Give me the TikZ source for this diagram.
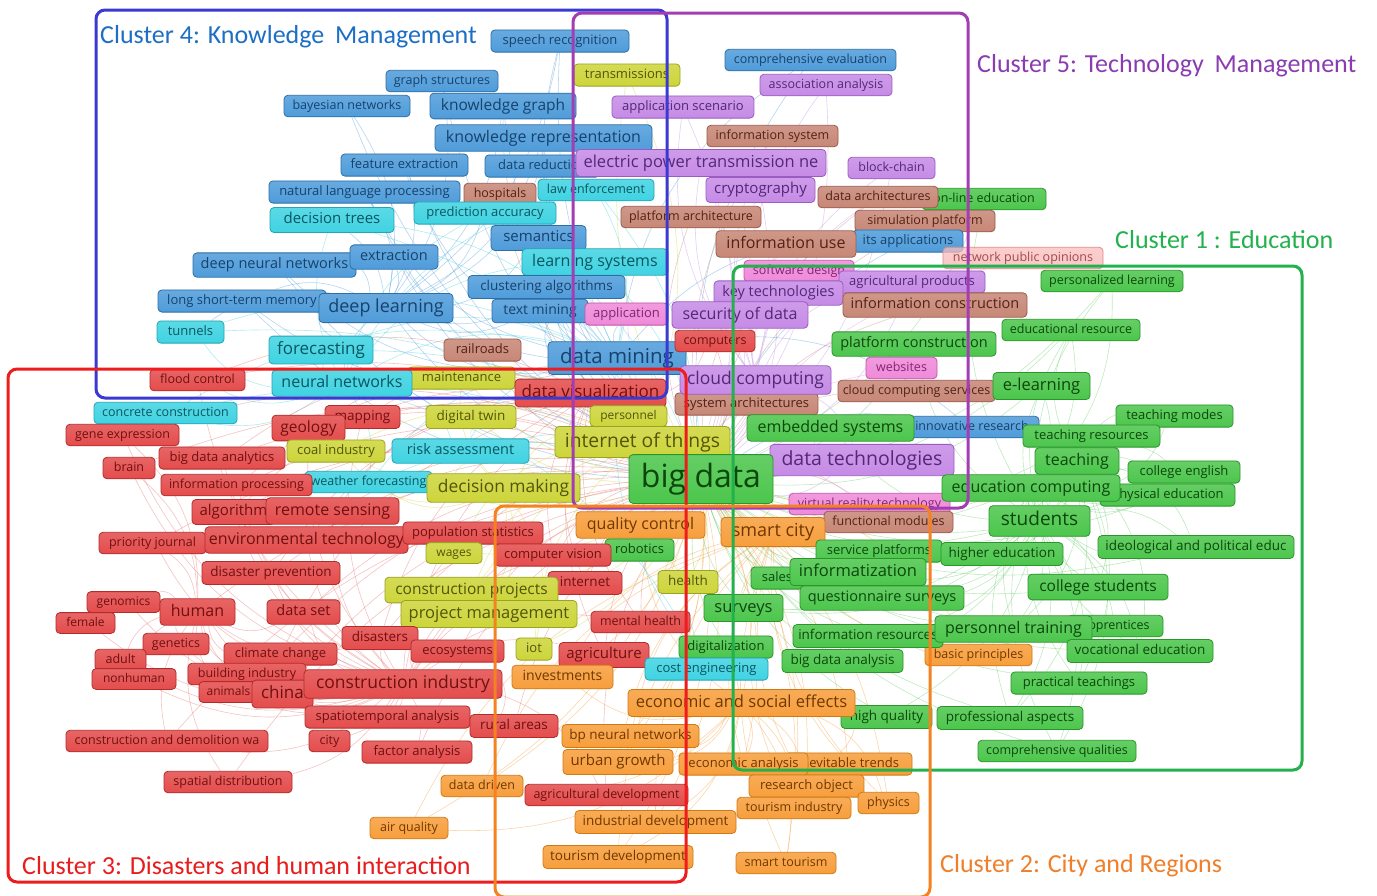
\documentclass[tikz,border=0pt]{standalone}
\usepackage{fontspec}
\newfontfamily\lblfont{Open Sans}
\newfontfamily\ttlfont{Carlito}
\pgfdeclarelayer{links}
\pgfsetlayers{links,main}

% keyword label colours: fill / border / text
\definecolor{BkF}{HTML}{4F9CDA}\definecolor{BkD}{HTML}{2E6EA6}\definecolor{BkT}{HTML}{17426C}
\definecolor{CyF}{HTML}{40D3E2}\definecolor{CyD}{HTML}{22A5B5}\definecolor{CyT}{HTML}{0A5660}
\definecolor{YeF}{HTML}{CDD53A}\definecolor{YeD}{HTML}{9CA322}\definecolor{YeT}{HTML}{52550A}
\definecolor{PuF}{HTML}{C68BE6}\definecolor{PuD}{HTML}{9A5CC2}\definecolor{PuT}{HTML}{522878}
\definecolor{BrF}{HTML}{C78776}\definecolor{BrD}{HTML}{9A5A4C}\definecolor{BrT}{HTML}{522216}
\definecolor{RdF}{HTML}{E44C4C}\definecolor{RdD}{HTML}{B32B2B}\definecolor{RdT}{HTML}{701010}
\definecolor{OrF}{HTML}{F79E3C}\definecolor{OrD}{HTML}{D27A12}\definecolor{OrT}{HTML}{703800}
\definecolor{GnF}{HTML}{4CC64C}\definecolor{GnD}{HTML}{2A952A}\definecolor{GnT}{HTML}{0C470C}
\definecolor{PkF}{HTML}{EF8AD9}\definecolor{PkD}{HTML}{C454AC}\definecolor{PkT}{HTML}{822672}
\definecolor{LpF}{HTML}{F9B4B4}\definecolor{LpD}{HTML}{E08A8A}\definecolor{LpT}{HTML}{A04A4A}
% cluster frames and titles
\definecolor{FrB}{HTML}{3A3AD2}\definecolor{FrP}{HTML}{A43DB4}\definecolor{FrG}{HTML}{22B14C}
\definecolor{FrR}{HTML}{EE1C1C}\definecolor{FrO}{HTML}{F58220}
\definecolor{TtB}{HTML}{1C6FC4}\definecolor{TtP}{HTML}{8A3CB0}\definecolor{TtG}{HTML}{22B14C}
\definecolor{TtR}{HTML}{E81C1C}\definecolor{TtO}{HTML}{F07F2A}

\tikzset{
  kw/.style={draw, rounded corners=4pt, line width=0.8pt, inner xsep=4pt, inner ysep=0pt},
  sz/.style={font=\lblfont\fontsize{#1}{#1}\selectfont, minimum height={1.4*#1+4},
             text height={0.72*#1}, text depth={0.2*#1}},
  lbl/.style 2 args={kw, top color=#1F!86!white, bottom color=#1F, draw=#1D, text=#1T#2},
  Bk/.style={lbl={Bk}{}},
  Cy/.style={lbl={Cy}{}},
  Ye/.style={lbl={Ye}{}},
  Pu/.style={lbl={Pu}{}},
  Br/.style={lbl={Br}{}},
  Rd/.style={lbl={Rd}{}},
  Or/.style={lbl={Or}{}},
  Gn/.style={lbl={Gn}{}},
  Pk/.style={lbl={Pk}{}},
  Lp/.style={lbl={Lp}{}, fill opacity=0.75, text opacity=1},
  frame/.style={line width=3pt, rounded corners=9pt},
  ttl/.style={font=\ttlfont\fontsize{26}{26}\selectfont, inner sep=0pt, anchor=west},
  lk/.style={line width=0.6pt, opacity=0.42},
  lkB/.style={lk, draw=BkF}, lkC/.style={lk, draw=CyF}, lkY/.style={lk, draw=YeF},
  lkP/.style={lk, draw=PuF}, lkW/.style={lk, draw=BrF}, lkR/.style={lk, draw=RdF!80!white},
  lkO/.style={lk, draw=OrF}, lkG/.style={lk, draw=GnF!85!white}, lkK/.style={lk, draw=PkF},
}

% keyword label: style, name, left, right, y, font size, text
\newcommand\kwd[7]{\node[#1, sz=#6, minimum width={#4-#3}] (#2) at ({(#3+#4)/2},#5) {#7};}

\begin{document}
\begin{tikzpicture}[x=1pt, y=-1pt]
\begin{pgfonlayer}{links}
\fill[white] (0,0) rectangle (1377,895);
\end{pgfonlayer}
\useasboundingbox (0,0) rectangle (1377,895);

% ---- knowledge management region
\kwd{Bk}{speech}{491}{629}{41}{13}{speech recognition}
\kwd{Bk}{graphst}{386}{498}{81}{12.5}{graph structures}
\kwd{Bk}{bayes}{284}{410}{106}{12.5}{bayesian networks}
\kwd{Bk}{kgraph}{430}{576}{106}{15.5}{knowledge graph}
\kwd{Bk}{krep}{435}{652}{138}{16}{knowledge representation}
\kwd{Bk}{featx}{341}{468}{165}{13}{feature extraction}
\kwd{Bk}{datared}{485}{600}{166}{13}{data reduction}
\kwd{Bk}{nlp}{269}{460}{192}{13}{natural language processing}
\kwd{Br}{hosp}{464}{536}{194}{12.5}{hospitals}
\kwd{Cy}{lawenf}{538}{654}{190}{12.5}{law enforcement}
\kwd{Cy}{predacc}{414}{556}{213}{13}{prediction accuracy}
\kwd{Cy}{dtrees}{270}{394}{220}{15}{decision trees}
\kwd{Bk}{seman}{491}{586}{238}{15}{semantics}
\kwd{Bk}{dnn}{193}{356}{265}{14.5}{deep neural networks}
\kwd{Bk}{extr}{350}{438}{257}{14.5}{extraction}
\kwd{Cy}{learnsys}{522}{668}{262}{16}{learning systems}
\kwd{Bk}{clustalg}{468}{625}{287}{13.5}{clustering algorithms}
\kwd{Bk}{lstm}{158}{326}{301}{13}{long short-term memory}
\kwd{Bk}{deepl}{319}{453}{308}{18}{deep learning}
\kwd{Cy}{tunnels}{157}{224}{332}{13}{tunnels}
\kwd{Bk}{textmin}{492}{588}{311}{14}{text mining}
\kwd{Pk}{appl}{585}{668}{314}{13}{application}
\kwd{Cy}{forecast}{269}{373}{350}{17}{forecasting}
\kwd{Br}{railr}{444}{521}{350}{13}{railroads}
\kwd{Bk}{datamin}{548}{686}{358}{20.5}{data mining}
\kwd{Ye}{mainten}{408}{515}{378}{13}{maintenance}
\kwd{Cy}{neuralnet}{272}{412}{383}{16}{neural networks}
\kwd{Rd}{floodc}{150}{245}{380}{12.5}{flood control}
\kwd{Rd}{datavis}{515}{666}{393}{17}{data visualization}

% ---- technology management region
\kwd{Ye}{transm}{574}{680}{75}{13}{transmissions}
\kwd{Bk}{compeval}{725}{896}{60}{12.5}{comprehensive evaluation}
\kwd{Pu}{assoc}{760}{892}{85}{12.5}{association analysis}
\kwd{Pu}{applscen}{612}{754}{107}{13}{application scenario}
\kwd{Br}{infosys}{707}{838}{136}{12.5}{information system}
\kwd{Pu}{electric}{576}{826}{163}{16.5}{electric power transmission ne}
\kwd{Pu}{block}{848}{935}{168}{12.5}{block-chain}
\kwd{Pu}{crypto}{706}{815}{190}{15}{cryptography}
\kwd{Gn}{online}{922}{1046}{199}{12.5}{on-line education}
\kwd{Br}{dataarch}{818}{938}{197}{12.5}{data architectures}
\kwd{Br}{platarch}{621}{761}{217}{12.5}{platform architecture}
\kwd{Br}{simplat}{855}{995}{221}{12.5}{simulation platform}
\kwd{Bk}{itsapp}{853}{963}{241}{13}{its applications}
\kwd{Br}{infouse}{716}{856}{244}{16}{information use}
\kwd{Lp}{netpub}{943}{1103}{258}{12.5}{network public opinions}
\kwd{Pk}{softdes}{744}{854}{271}{12.5}{software design}
\kwd{Pu}{agriprod}{839}{985}{282}{13}{agricultural products}
\kwd{Pu}{keytech}{714}{843}{293}{14.5}{key technologies}
\kwd{Gn}{perslearn}{1041}{1183}{281}{12.5}{personalized learning}
\kwd{Br}{infocons}{843}{1027}{305}{14.5}{information construction}
\kwd{Pu}{secdata}{672}{808}{315}{16}{security of data}
\kwd{Rd}{computers}{675}{755}{341}{12.5}{computers}
\kwd{Gn}{edures}{1002}{1140}{330}{12.5}{educational resource}
\kwd{Gn}{platcons}{832}{996}{344}{14.5}{platform construction}
\kwd{Pk}{websites}{866}{937}{368}{12.5}{websites}
\kwd{Br}{sysarch}{675}{818}{404}{13}{system architectures}
\kwd{Pu}{cloudc}{680}{831}{380}{17.5}{cloud computing}
\kwd{Br}{cloudserv}{838}{995}{391}{12.5}{cloud computing services}
\kwd{Gn}{elearn}{993}{1090}{386}{16.5}{e-learning}
\kwd{Bk}{innov}{905}{1039}{427}{12.5}{innovative research}
\kwd{Gn}{embedded}{747}{914}{428}{16}{embedded systems}
\kwd{Gn}{teachmodes}{1116}{1233}{416}{13}{teaching modes}
\kwd{Gn}{teachres}{1023}{1160}{436}{13}{teaching resources}
\kwd{Pu}{datatech}{770}{954}{460}{19.5}{data technologies}
\kwd{Gn}{teaching}{1035}{1119}{461}{16}{teaching}
\kwd{Gn}{colleng}{1128}{1240}{472}{13}{college english}
\kwd{Gn}{physed}{1100}{1235}{495}{13}{physical education}
\kwd{Pk}{vrtech}{789}{950}{504}{12.5}{virtual reality technology}
\kwd{Gn}{educomp}{942}{1120}{488}{16}{education computing}

% ---- central and disaster region
\kwd{Cy}{concrete}{94}{237}{413}{12.5}{concrete construction}
\kwd{Rd}{geneexp}{66}{179}{435}{12.5}{gene expression}
\kwd{Rd}{mapping}{325}{400}{417}{13.5}{mapping}
\kwd{Rd}{geology}{272}{345}{428}{15.5}{geology}
\kwd{Ye}{dtwin}{426}{516}{417}{13.5}{digital twin}
\kwd{Ye}{personnel}{590}{667}{416}{12}{personnel}
\kwd{Ye}{iotth}{555}{730}{442}{19.3}{internet of things}
\kwd{Ye}{coal}{287}{385}{451}{13}{coal industry}
\kwd{Cy}{riskass}{392}{529}{451}{14.5}{risk assessment}
\kwd{Rd}{brain}{103}{155}{468}{12.5}{brain}
\kwd{Rd}{bdanalytics}{159}{285}{458}{13}{big data analytics}
\kwd{Cy}{weather}{305}{432}{482}{12.5}{weather forecasting}
\kwd{Rd}{infoproc}{161}{312}{485}{12.5}{information processing}
\kwd{Ye}{decmak}{427}{580}{488}{17.4}{decision making}
\kwd{Gn}{bigdata}{629}{773}{479}{32}{big data}
\kwd{Rd}{algo}{192}{275}{512}{15}{algorithm}
\kwd{Rd}{remsens}{266}{399}{511}{16}{remote sensing}
\kwd{Rd}{prio}{99}{206}{543}{12.5}{priority journal}
\kwd{Rd}{envtech}{210}{403}{540}{16}{environmental technology}
\kwd{Rd}{popstat}{403}{543}{533}{13}{population statistics}
\kwd{Ye}{wages}{426}{482}{553}{12}{wages}
\kwd{Or}{qualc}{576}{705}{525}{16}{quality control}
\kwd{Gn}{robotics}{605}{674}{550}{13}{robotics}
\kwd{Rd}{compvis}{495}{611}{555}{13}{computer vision}
\kwd{Br}{funcmod}{824}{953}{522}{12.5}{functional modules}
\kwd{Or}{smartcity}{721}{825}{532}{18}{smart city}
\kwd{Gn}{students}{989}{1090}{521}{19}{students}
\kwd{Rd}{disprev}{202}{340}{573}{13.5}{disaster prevention}
\kwd{Rd}{internet}{548}{622}{583}{13.5}{internet}
\kwd{Ye}{constrproj}{385}{558}{590}{15.5}{construction projects}
\kwd{Ye}{health}{658}{718}{582}{13.5}{health}
\kwd{Rd}{genomics}{87}{160}{602}{12}{genomics}
\kwd{Rd}{human}{160}{235}{612}{16}{human}
\kwd{Rd}{dataset}{267}{340}{612}{14.5}{data set}
\kwd{Ye}{projman}{401}{577}{614}{16.5}{project management}
\kwd{Rd}{female}{56}{115}{623}{12}{female}
\kwd{Rd}{genetics}{143}{209}{644}{12.5}{genetics}
\kwd{Rd}{disasters}{342}{418}{638}{13.5}{disasters}
\kwd{Rd}{mentalh}{591}{690}{622}{12.5}{mental health}
\kwd{Rd}{ecosys}{411}{504}{651}{13}{ecosystems}
\kwd{Ye}{iot}{516}{552}{649}{13}{iot}
\kwd{Rd}{agri}{559}{649}{655}{15}{agriculture}
\kwd{Rd}{climate}{224}{337}{654}{13}{climate change}
\kwd{Rd}{adult}{95}{146}{660}{12.5}{adult}
\kwd{Rd}{nonhuman}{92}{176}{679}{12}{nonhuman}
\kwd{Rd}{building}{188}{306}{674}{12.5}{building industry}
\kwd{Rd}{animals}{199}{258}{692}{12}{animals}
\kwd{Rd}{china}{252}{313}{694}{17}{china}
\kwd{Rd}{constrind}{304}{502}{684}{17.5}{construction industry}
\kwd{Or}{invest}{512}{613}{677}{14}{investments}

% ---- education and city region
\kwd{Gn}{servplat}{816}{942}{551}{13}{service platforms}
\kwd{Gn}{highered}{941}{1063}{554}{13.5}{higher education}
\kwd{Gn}{ideo}{1098}{1294}{547}{13.5}{ideological and political educ}
\kwd{Gn}{sales}{751}{803}{578}{13}{sales}
\kwd{Gn}{informat}{790}{926}{572}{16.5}{informatization}
\kwd{Gn}{questsurv}{800}{964}{598}{14.5}{questionnaire surveys}
\kwd{Gn}{collstud}{1028}{1168}{587}{15.5}{college students}
\kwd{Gn}{surveys}{704}{783}{608}{16.5}{surveys}
\kwd{Or}{basicpr}{925}{1032}{655}{12.5}{basic principles}
\kwd{Gn}{inforesrc}{793}{943}{636}{13.5}{information resources}
\kwd{Gn}{apprent}{1068}{1163}{626}{12.5}{apprentices}
\kwd{Gn}{perstrain}{935}{1092}{629}{16}{personnel training}
\kwd{Gn}{vocat}{1067}{1213}{651}{13.5}{vocational education}
\kwd{Gn}{bdanalysis}{782}{903}{661}{13.5}{big data analysis}
\kwd{Gn}{practeach}{1011}{1147}{683}{13}{practical teachings}
\kwd{Gn}{profasp}{937}{1083}{718}{13.5}{professional aspects}
\kwd{Gn}{compqual}{978}{1136}{751}{12.5}{comprehensive qualities}
\kwd{Gn}{digital}{679}{773}{647}{13}{digitalization}
\kwd{Cy}{costeng}{645}{768}{669}{13}{cost engineering}
\kwd{Gn}{highq}{841}{932}{717}{13.5}{high quality}
\kwd{Or}{econsoc}{628}{855}{703}{16.5}{economic and social effects}
\kwd{Rd}{spatiot}{305}{470}{717}{13}{spatiotemporal analysis}
\kwd{Rd}{rural}{470}{558}{726}{13.5}{rural areas}
\kwd{Or}{bpnn}{562}{699}{736}{13.5}{bp neural networks}
\kwd{Rd}{cdw}{66}{268}{741}{12.5}{construction and demolition wa}
\kwd{Rd}{city}{309}{350}{741}{12.5}{city}
\kwd{Rd}{factor}{362}{472}{752}{13}{factor analysis}
\kwd{Or}{urban}{563}{673}{762}{15}{urban growth}
\kwd{Or}{inevit}{785}{912}{764}{13}{inevitable trends}
\kwd{Or}{econana}{679}{808}{764}{13}{economic analysis}
\kwd{Or}{research}{749}{864}{786}{13}{research object}
\kwd{Or}{physics}{858}{919}{803}{12.5}{physics}
\kwd{Or}{tourind}{737}{851}{808}{12.5}{tourism industry}
\kwd{Rd}{spatdist}{164}{292}{782}{12.5}{spatial distribution}
\kwd{Or}{datadriven}{441}{523}{786}{12.5}{data driven}
\kwd{Rd}{agridev}{525}{688}{795}{12.5}{agricultural development}
\kwd{Or}{airq}{370}{448}{828}{12.5}{air quality}
\kwd{Or}{inddev}{575}{736}{822}{13.5}{industrial development}
\kwd{Or}{tourdev}{543}{693}{857}{13.5}{tourism development}
\kwd{Or}{smarttour}{736}{836}{863}{12.5}{smart tourism}

% ---- co-occurrence links, behind the labels
\begin{pgfonlayer}{links}
\foreach \t in {speech,graphst,bayes,kgraph,krep,featx,datared,nlp,seman,extr,dnn,clustalg,lstm,deepl,textmin,datamin,innov,itsapp,compeval}
  \draw[lkB] (bigdata) to[bend left=20] (\t);
\foreach \t in {lawenf,predacc,dtrees,learnsys,tunnels,forecast,neuralnet,concrete,riskass,weather,costeng}
  \draw[lkC] (bigdata) to[bend right=18] (\t);
\foreach \t in {transm,mainten,dtwin,personnel,iotth,coal,decmak,wages,constrproj,health,projman,iot}
  \draw[lkY] (bigdata) to[bend left=18] (\t);
\foreach \t in {assoc,applscen,electric,block,crypto,agriprod,keytech,secdata,cloudc,datatech}
  \draw[lkP] (bigdata) to[bend right=20] (\t);
\foreach \t in {hosp,infosys,dataarch,platarch,simplat,infouse,infocons,cloudserv,sysarch,funcmod,railr}
  \draw[lkW] (bigdata) to[bend left=20] (\t);
\foreach \t in {floodc,datavis,geneexp,mapping,geology,brain,bdanalytics,infoproc,algo,remsens,prio,envtech,popstat,compvis,disprev,internet,human,dataset,disasters,mentalh,ecosys,agri,climate,china,constrind,spatiot,rural,cdw,factor,spatdist,agridev,computers}
  \draw[lkR] (bigdata) to[bend right=20] (\t);
\foreach \t in {qualc,smartcity,invest,econsoc,bpnn,urban,econana,inevit,research,physics,tourind,datadriven,airq,inddev,tourdev,smarttour,basicpr}
  \draw[lkO] (bigdata) to[bend left=20] (\t);
\foreach \t in {online,perslearn,edures,platcons,elearn,embedded,teachmodes,teachres,teaching,colleng,physed,educomp,students,servplat,highered,ideo,sales,informat,questsurv,collstud,surveys,inforesrc,perstrain,apprent,vocat,bdanalysis,practeach,profasp,compqual,robotics,digital,highq}
  \draw[lkG] (bigdata) to[bend right=20] (\t);
\foreach \t in {appl,softdes,websites,vrtech,netpub}
  \draw[lkK] (bigdata) to[bend left=18] (\t);
\foreach \t in {speech,graphst,bayes,kgraph,krep,featx,datared,nlp,seman,extr,dnn,clustalg,lstm,textmin,predacc,dtrees,tunnels,forecast,neuralnet}
  \draw[lkB] (deepl) to[bend right=22] (\t);
\foreach \t in {speech,kgraph,krep,featx,nlp,seman,extr,dnn,clustalg,lstm,deepl,textmin,appl,compeval,itsapp,innov}
  \draw[lkB] (datamin) to[bend left=24] (\t);
\foreach \t in {lawenf,predacc,dtrees,learnsys,tunnels,forecast,neuralnet,concrete,riskass,weather,costeng}
  \draw[lkC] (datamin) to[bend right=20] (\t);
\foreach \t in {lawenf,predacc,dtrees,learnsys,tunnels,forecast,concrete,riskass,weather,costeng,floodc}
  \draw[lkC] (neuralnet) to[bend left=22] (\t);
\foreach \t in {floodc,datavis,geneexp,mapping,geology,brain,bdanalytics,infoproc,algo,remsens,prio,envtech,popstat,compvis,disprev,internet,human,dataset,disasters,mentalh,ecosys,agri,climate,china,spatiot,rural,cdw,factor,spatdist,agridev,genomics,female,genetics,adult,nonhuman,building,animals,city}
  \draw[lkR] (constrind) to[bend left=22] (\t);
\foreach \t in {genomics,female,genetics,adult,nonhuman,brain,geneexp,animals,prio,building,climate,cdw,spatdist,dataset,disasters,china}
  \draw[lkR] (human) to[bend right=24] (\t);
\foreach \t in {floodc,geology,mapping,remsens,disprev,climate,disasters,envtech,algo,infoproc,bdanalytics,computers,mentalh,agri,internet,compvis}
  \draw[lkR] (datavis) to[bend right=22] (\t);
\foreach \t in {online,perslearn,edures,platcons,elearn,teachmodes,teachres,teaching,colleng,physed,educomp,highered,ideo,informat,questsurv,collstud,surveys,inforesrc,perstrain,apprent,vocat,bdanalysis,practeach,profasp,compqual,highq,embedded,servplat}
  \draw[lkG] (students) to[bend left=22] (\t);
\foreach \t in {teachmodes,teachres,teaching,colleng,physed,ideo,collstud,perstrain,vocat,practeach,profasp,compqual,elearn,edures,perslearn}
  \draw[lkG] (educomp) to[bend right=22] (\t);
\foreach \t in {teachmodes,teachres,colleng,physed,ideo,collstud,perstrain,vocat,practeach,profasp,compqual,highered,edures,surveys,questsurv}
  \draw[lkG] (teaching) to[bend left=26] (\t);
\foreach \t in {qualc,invest,econsoc,bpnn,urban,econana,inevit,research,physics,tourind,datadriven,airq,inddev,tourdev,smarttour,basicpr}
  \draw[lkO] (smartcity) to[bend right=22] (\t);
\foreach \t in {qualc,invest,bpnn,urban,econana,inevit,research,physics,tourind,datadriven,airq,inddev,tourdev,smarttour}
  \draw[lkO] (econsoc) to[bend left=24] (\t);
\foreach \t in {transm,mainten,dtwin,personnel,coal,decmak,wages,constrproj,health,projman,iot}
  \draw[lkY] (iotth) to[bend right=22] (\t);
\foreach \t in {mainten,dtwin,coal,wages,constrproj,projman,iot,riskass,weather}
  \draw[lkY] (decmak) to[bend left=24] (\t);
\foreach \t in {assoc,applscen,electric,block,crypto,agriprod,keytech,secdata,datatech,infouse,dataarch,infosys}
  \draw[lkP] (cloudc) to[bend left=22] (\t);
\end{pgfonlayer}

% ---- cluster frames
\draw[frame, FrB] (96,10) rectangle (667,398);
\draw[frame, FrP] (573,13) rectangle (968,508);
\draw[frame, FrG] (733,266) rectangle (1302,770);
\draw[frame, FrR] (8,369) rectangle (686,882);
\draw[frame, FrO] (495,506) rectangle (930,897);

% ---- cluster titles
\node[ttl, text=TtB] (t4) at (100,37) {Cluster 4: Knowledge\hspace{5pt} Management};
\node[ttl, text=TtP] (t5) at (977,66) {Cluster 5: Technology\hspace{5pt} Management};
\node[ttl, text=TtG] (t1) at (1115,240) {Cluster 1 : Education};
\node[ttl, text=TtR] (t3) at (22,866) {Cluster 3: Disasters and human interaction};
\node[ttl, text=TtO] (t2) at (940,866) {Cluster 2: City and Regions};
\end{tikzpicture}
\end{document}
